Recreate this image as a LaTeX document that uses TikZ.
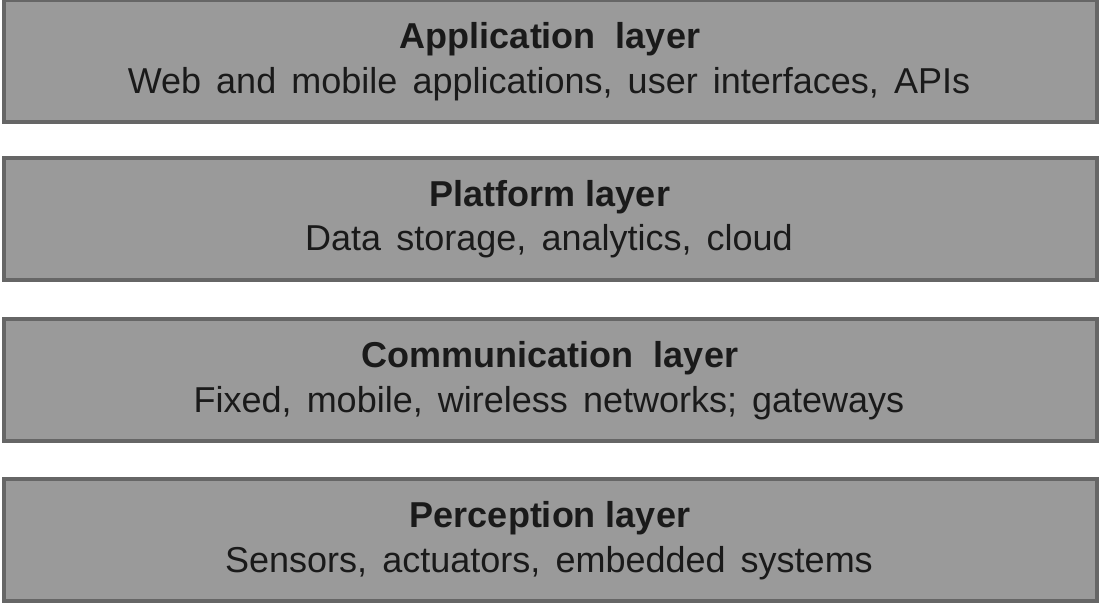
\documentclass[tikz,border=0pt]{standalone}
\usepackage{fontspec}
\setmainfont{Liberation Sans}
\definecolor{boxfill}{RGB}{154,154,154}
\definecolor{boxline}{RGB}{102,102,102}
\definecolor{txt}{RGB}{26,26,26}
\newcommand\widesp{\spaceskip=0.42em\relax}
\begin{document}
\begin{tikzpicture}[x=1pt,y=-1pt,
  layer/.style={draw=boxline,fill=boxfill,line width=4pt,minimum width=1093pt,minimum height=122pt,inner sep=0pt,anchor=north west},
  ttl/.style={font=\fontsize{36}{40}\selectfont\bfseries,text=txt,inner sep=0pt,anchor=base},
  sub/.style={font=\fontsize{36}{40}\selectfont\widesp,text=txt,inner sep=0pt,anchor=base}]
\useasboundingbox (0,0) rectangle (1099,606);
\node[layer] (b1) at (2,-2) {};
\node[layer] (b2) at (2,156) {};
\node[layer] (b3) at (2,317) {};
\node[layer] (b4) at (2,477) {};
\node[ttl] (t1) at (550,48) {Application\ \ layer};
\node[sub] (s1) at (549,93) {Web and mobile applications, user interfaces, APIs};
\node[ttl] (t2) at (550,206) {Platform layer};
\node[sub] (s2) at (549,250) {Data storage, analytics, cloud};
\node[ttl] (t3) at (550,367) {Communication\ \ layer};
\node[sub] (s3) at (549,412) {Fixed, mobile, wireless networks; gateways};
\node[ttl] (t4) at (550,527) {Perception layer};
\node[sub] (s4) at (549,572) {Sensors, actuators, embedded systems};
\end{tikzpicture}
\end{document}
